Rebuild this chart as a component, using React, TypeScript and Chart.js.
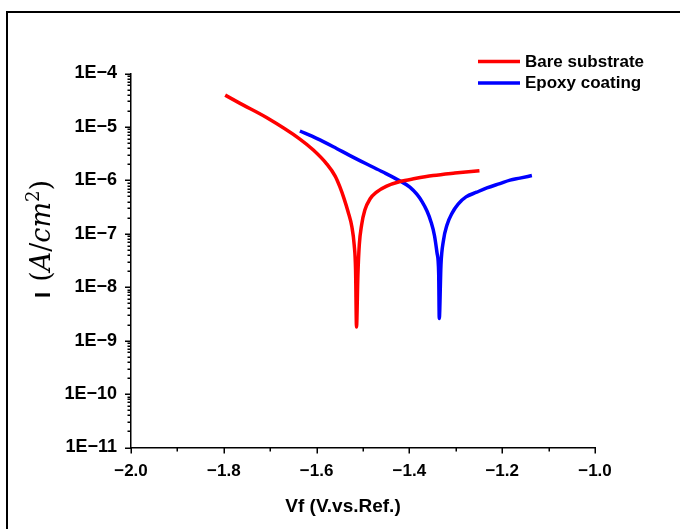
import React, { useEffect, useRef } from 'react';
import { Chart, registerables } from 'chart.js';
Chart.register(...registerables);

// ---- data ----
const seriesLabels = ['Bare substrate', 'Epoxy coating'];
const seriesColors = ['#ff0000', '#0000ff'];

// potential (V vs Ref.) and current density (A/cm^2)
const bareV = [-1.797, -1.765, -1.708, -1.636, -1.607, -1.578, -1.560, -1.550, -1.541, -1.532, -1.524, -1.519, -1.516, -1.514,
  -1.511, -1.508, -1.503, -1.496, -1.485, -1.470, -1.449, -1.420, -1.388, -1.349, -1.302, -1.249];
const bareI = [3.94e-5, 2.76e-5, 1.50e-5, 5.93e-6, 3.69e-6, 2.02e-6, 1.20e-6, 7.6e-7, 4.6e-7, 2.55e-7, 1.35e-7, 6.2e-8, 2.1e-8, 1.8e-9,
  1.7e-8, 6.2e-8, 1.46e-7, 2.78e-7, 4.47e-7, 6.1e-7, 7.8e-7, 9.5e-7, 1.08e-6, 1.23e-6, 1.37e-6, 1.52e-6];

const epoxyV = [-1.636, -1.600, -1.564, -1.528, -1.492, -1.457, -1.420, -1.399, -1.384, -1.3728, -1.3621, -1.3534, -1.3459, -1.3405, -1.3369, -1.3356,
  -1.332, -1.3265, -1.319, -1.308, -1.295, -1.278, -1.255, -1.233, -1.205, -1.183, -1.162, -1.136];
const epoxyI = [8.4e-6, 6.1e-6, 4.26e-6, 2.91e-6, 2.02e-6, 1.43e-6, 9.7e-7, 7.5e-7, 5.5e-7, 4.0e-7, 2.67e-7, 1.67e-7, 9.2e-8, 4.4e-8, 1.85e-8, 2.6e-9,
  2.6e-8, 7.6e-8, 1.46e-7, 2.44e-7, 3.6e-7, 4.9e-7, 6.0e-7, 7.2e-7, 8.7e-7, 1.01e-6, 1.10e-6, 1.23e-6];

const xMajorTicks = [-2.0, -1.8, -1.6, -1.4, -1.2, -1.0];
const xMinorTicks = [-1.9, -1.7, -1.5, -1.3, -1.1];
const yDecadeExps = [-11, -10, -9, -8, -7, -6, -5, -4];
const yMinorMantissas = [2, 3, 4, 5, 6, 7, 8, 9];

const xTitle = 'Vf (V.vs.Ref.)';

const SANS = '"Liberation Sans", Arial, sans-serif';
const SERIF = '"DejaVu Serif", "Liberation Serif", serif';

const framePlugin = {
  id: 'frame',
  beforeDraw(chart: any) {
    const { ctx } = chart;
    ctx.save();
    ctx.fillStyle = '#fff';
    ctx.fillRect(0, 0, chart.width, chart.height);
    ctx.strokeStyle = '#000';
    ctx.lineWidth = 2;
    ctx.strokeRect(7, 12, 700, 600);
    ctx.restore();
  },
};

const ticksPlugin = {
  id: 'tickMarks',
  afterDraw(chart: any) {
    const { ctx, chartArea, scales } = chart;
    const x = scales.x, y = scales.y;
    ctx.save();
    ctx.strokeStyle = '#000';
    ctx.lineWidth = 1.5;
    ctx.beginPath();
    const yb = chartArea.bottom;
    xMajorTicks.forEach((v) => {
      const px = Math.round(x.getPixelForValue(v)) + 0.25;
      ctx.moveTo(px, yb); ctx.lineTo(px, yb + 6);
    });
    xMinorTicks.forEach((v) => {
      const px = Math.round(x.getPixelForValue(v)) + 0.25;
      ctx.moveTo(px, yb); ctx.lineTo(px, yb + 4);
    });
    const xl = chartArea.left;
    yDecadeExps.forEach((e, i) => {
      const py = Math.round(y.getPixelForValue(Math.pow(10, e))) + 0.25;
      ctx.moveTo(xl, py); ctx.lineTo(xl - 6, py);
      if (i < yDecadeExps.length - 1) {
        yMinorMantissas.forEach((m) => {
          const p = Math.round(y.getPixelForValue(m * Math.pow(10, e))) + 0.25;
          ctx.moveTo(xl, p); ctx.lineTo(xl - 3.5, p);
        });
      }
    });
    ctx.stroke();
    ctx.restore();
  },
};

const titlesPlugin = {
  id: 'titles',
  afterDraw(chart: any) {
    const { ctx, chartArea } = chart;
    ctx.save();
    ctx.fillStyle = '#000';
    // x title
    ctx.font = `bold 19px ${SANS}`;
    ctx.textAlign = 'center';
    ctx.textBaseline = 'middle';
    ctx.fillText(xTitle, chartArea.left + 212, chartArea.bottom + 59);

    // y title: I (A/cm^2), rotated, reading upward
    const parts: [string, string, number][] = [
      ['I', `bold 22px ${SANS}`, 0],
      ['\u2009 ', `21px ${SANS}`, 0],
      ['(', `27px ${SERIF}`, 0],
      ['A', `italic 27px ${SERIF}`, 0],
      ['/', `27px ${SERIF}`, 0],
      ['cm', `italic 27px ${SERIF}`, 0],
      ['2', `18px ${SERIF}`, -11],
      [')', `27px ${SERIF}`, 0],
    ];
    ctx.textAlign = 'left';
    ctx.textBaseline = 'alphabetic';
    const widths = parts.map(([t, f]) => { ctx.font = f; return ctx.measureText(t).width; });
    ctx.translate(50, 298);
    ctx.rotate(-Math.PI / 2);
    let cx = 0;
    parts.forEach(([t, f, dy], i) => {
      ctx.font = f;
      ctx.fillText(t, cx, dy);
      cx += widths[i];
    });
    ctx.restore();
  },
};

const legendPlugin = {
  id: 'customLegend',
  afterDraw(chart: any) {
    const { ctx, chartArea } = chart;
    ctx.save();
    const x0 = chartArea.right - 117;
    const y0 = chartArea.top - 12;
    chart.data.datasets.forEach((ds: any, i: number) => {
      const yy = y0 + i * 21.5;
      ctx.strokeStyle = ds.borderColor;
      ctx.lineWidth = 3.5;
      ctx.beginPath();
      ctx.moveTo(x0, yy);
      ctx.lineTo(x0 + 42, yy);
      ctx.stroke();
      ctx.fillStyle = '#000';
      ctx.font = `bold 17px ${SANS}`;
      ctx.textAlign = 'left';
      ctx.textBaseline = 'middle';
      ctx.fillText(ds.label, x0 + 47, yy + 0.5);
    });
    ctx.restore();
  },
};

function toPoints(vs: number[], is: number[]) {
  return vs.map((v, k) => ({ x: v, y: is[k] }));
}

export default function App() {
  const ref = useRef<HTMLCanvasElement | null>(null);
  useEffect(() => {
    if (!ref.current) return;
    const common = { showLine: true, pointRadius: 0, borderWidth: 3.5, cubicInterpolationMode: 'monotone' as const, borderJoinStyle: 'round' as const, borderCapStyle: 'butt' as const };
    const chart = new Chart(ref.current, {
      type: 'scatter',
      data: {
        datasets: [
          { label: seriesLabels[0], data: toPoints(bareV, bareI), borderColor: seriesColors[0], backgroundColor: seriesColors[0], ...common },
          { label: seriesLabels[1], data: toPoints(epoxyV, epoxyI), borderColor: seriesColors[1], backgroundColor: seriesColors[1], ...common },
        ],
      },
      options: {
        animation: false,
        responsive: false,
        devicePixelRatio: 1,
        layout: { padding: { left: 31, top: 73.5, right: 85, bottom: 41.5 } },
        plugins: { legend: { display: false }, tooltip: { enabled: false } },
        scales: {
          x: {
            type: 'linear',
            min: -2,
            max: -1,
            grid: { display: false },
            border: { display: true, color: '#000', width: 1.5 },
            afterBuildTicks: (s: any) => { s.ticks = xMajorTicks.map((v) => ({ value: v })); },
            afterFit: (s: any) => { s.height = 40; },
            ticks: {
              color: '#000',
              padding: 6,
              maxRotation: 0,
              font: { family: SANS, size: 17, weight: 'bold' },
              callback: (v: any) => Number(v).toFixed(1).replace('-', '\u2212'),
            },
          },
          y: {
            type: 'logarithmic',
            min: 1e-11,
            max: 1e-4,
            grid: { display: false },
            border: { display: true, color: '#000', width: 1.5 },
            afterBuildTicks: (s: any) => { s.ticks = yDecadeExps.map((e) => ({ value: Math.pow(10, e) })); },
            afterFit: (s: any) => { s.width = 100; },
            ticks: {
              color: '#000',
              padding: 6,
              font: { family: SANS, size: 18, weight: 'bold' },
              callback: (v: any) => {
                const e = Math.round(Math.log10(Number(v)));
                return '1E' + (e < 0 ? '\u2212' : '') + Math.abs(e);
              },
            },
          },
        },
      },
      plugins: [framePlugin, ticksPlugin, titlesPlugin, legendPlugin],
    });
    return () => chart.destroy();
  }, []);
  return (
    <div style={{ position: 'fixed', left: 0, top: 0, width: 680, height: 529 }}>
      <canvas ref={ref} width={680} height={529} />
    </div>
  );
}
